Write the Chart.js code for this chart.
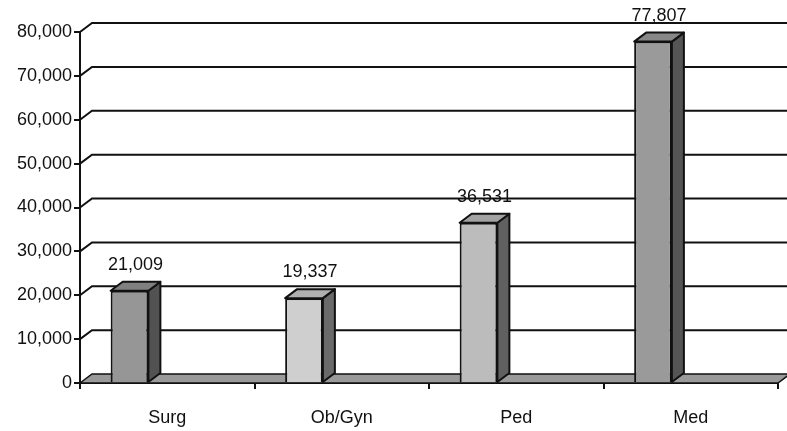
<!DOCTYPE html>
<html>
<head>
<meta charset="utf-8">
<script src="https://cdn.jsdelivr.net/npm/chart.js@4"></script>
<style>
  html, body { margin: 0; padding: 0; background: #fff; }
  #wrap { width: 787px; height: 431px; }
</style>
</head>
<body>
<div id="wrap"><canvas id="wardChart"></canvas></div>
<script>
var labels = ['Surg', 'Ob/Gyn', 'Ped', 'Med'];
var values = [21009, 19337, 36531, 77807];
var yMax = 80000;
var yStep = 10000;

var frontColors = ['#969696', '#cfcfcf', '#bcbcbc', '#9a9a9a'];
var topColors = ['#808080', '#b0b0b0', '#a2a2a2', '#878787'];
var sideColors = ['#525252', '#6a6a6a', '#606060', '#555555'];

var DX = 12, DY = 9;
var FONT = '18px "Liberation Sans", Arial, sans-serif';

function fmt(v) {
    return v.toLocaleString('en-US');
}

// back wall, floor and the 3d sides of the bars
const box3d = {
    id: 'box3d',
    beforeDatasetsDraw(chart) {
        const ctx = chart.ctx;
        const a = chart.chartArea;
        const y = chart.scales.y;
        ctx.save();
        ctx.strokeStyle = '#111';
        ctx.lineWidth = 2;
        y.ticks.forEach(function (t) {
            if (t.value === 0) return;
            const py = y.getPixelForValue(t.value);
            ctx.beginPath();
            ctx.moveTo(a.left, py);
            ctx.lineTo(a.left + DX, py - DY);
            ctx.lineTo(a.right + DX, py - DY);
            ctx.stroke();
        });
        // floor
        const b = y.getPixelForValue(0);
        ctx.beginPath();
        ctx.moveTo(a.left, b);
        ctx.lineTo(a.left + DX, b - DY);
        ctx.lineTo(a.right + DX, b - DY);
        ctx.lineTo(a.right, b);
        ctx.closePath();
        ctx.fillStyle = '#9a9a9a';
        ctx.fill();
        ctx.lineWidth = 1.5;
        ctx.stroke();
        ctx.restore();
    },
    afterDatasetsDraw(chart) {
        const ctx = chart.ctx;
        const meta = chart.getDatasetMeta(0);
        ctx.save();
        ctx.strokeStyle = '#111';
        ctx.lineWidth = 2;
        ctx.lineJoin = 'round';
        meta.data.forEach(function (bar, i) {
            const p = bar.getProps(['x', 'y', 'base', 'width'], true);
            const l = p.x - p.width / 2, r = p.x + p.width / 2;
            // side
            ctx.beginPath();
            ctx.moveTo(r, p.y);
            ctx.lineTo(r + DX, p.y - DY);
            ctx.lineTo(r + DX, p.base - DY);
            ctx.lineTo(r, p.base);
            ctx.closePath();
            ctx.fillStyle = sideColors[i];
            ctx.fill();
            ctx.stroke();
            // top
            ctx.beginPath();
            ctx.moveTo(l, p.y);
            ctx.lineTo(l + DX, p.y - DY);
            ctx.lineTo(r + DX, p.y - DY);
            ctx.lineTo(r, p.y);
            ctx.closePath();
            ctx.fillStyle = topColors[i];
            ctx.fill();
            ctx.stroke();
            // value label
            ctx.fillStyle = '#111';
            ctx.font = FONT;
            ctx.textAlign = 'center';
            ctx.textBaseline = 'middle';
            ctx.fillText(fmt(values[i]), p.x + DX / 2, p.y - DY - 17);
        });
        ctx.restore();
    }
};

const ctx = document.getElementById('wardChart').getContext('2d');
var wardChart = new Chart(ctx, {
    type: 'bar',
    data: {
        labels: labels,
        datasets: [
            {
                data: values,
                backgroundColor: frontColors,
                borderColor: '#111',
                borderWidth: 2,
                categoryPercentage: 0.865,
                barPercentage: 0.5
            },
            {
                // empty slot so the bars sit left of the label, as in the 3d original
                data: [null, null, null, null],
                categoryPercentage: 0.865,
                barPercentage: 0.5
            }
        ]
    },
    options: {
        responsive: true,
        maintainAspectRatio: false,
        animation: false,
        layout: {
            padding: { top: 32, right: 9, left: 0, bottom: 0 }
        },
        plugins: {
            legend: { display: false },
            tooltip: { enabled: false }
        },
        scales: {
            x: {
                afterFit: function (s) { s.height = 48; },
                offset: true,
                grid: {
                    offset: true,
                    drawOnChartArea: false,
                    drawTicks: true,
                    tickLength: 6,
                    color: '#111',
                    lineWidth: 2
                },
                border: { display: true, color: '#111', width: 2 },
                ticks: {
                    color: '#111',
                    padding: 18,
                    maxRotation: 0,
                    font: { family: '"Liberation Sans", Arial, sans-serif', size: 18 }
                }
            },
            y: {
                afterFit: function (s) { s.width = 80; },
                min: 0,
                max: yMax,
                grid: {
                    drawOnChartArea: false,
                    drawTicks: true,
                    tickLength: 6,
                    color: '#111',
                    lineWidth: 2
                },
                border: { display: true, color: '#111', width: 2 },
                ticks: {
                    stepSize: yStep,
                    padding: 2,
                    color: '#111',
                    font: { family: '"Liberation Sans", Arial, sans-serif', size: 18 },
                    callback: function (v) { return fmt(v); }
                }
            }
        }
    },
    plugins: [box3d]
});
</script>
</body>
</html>
